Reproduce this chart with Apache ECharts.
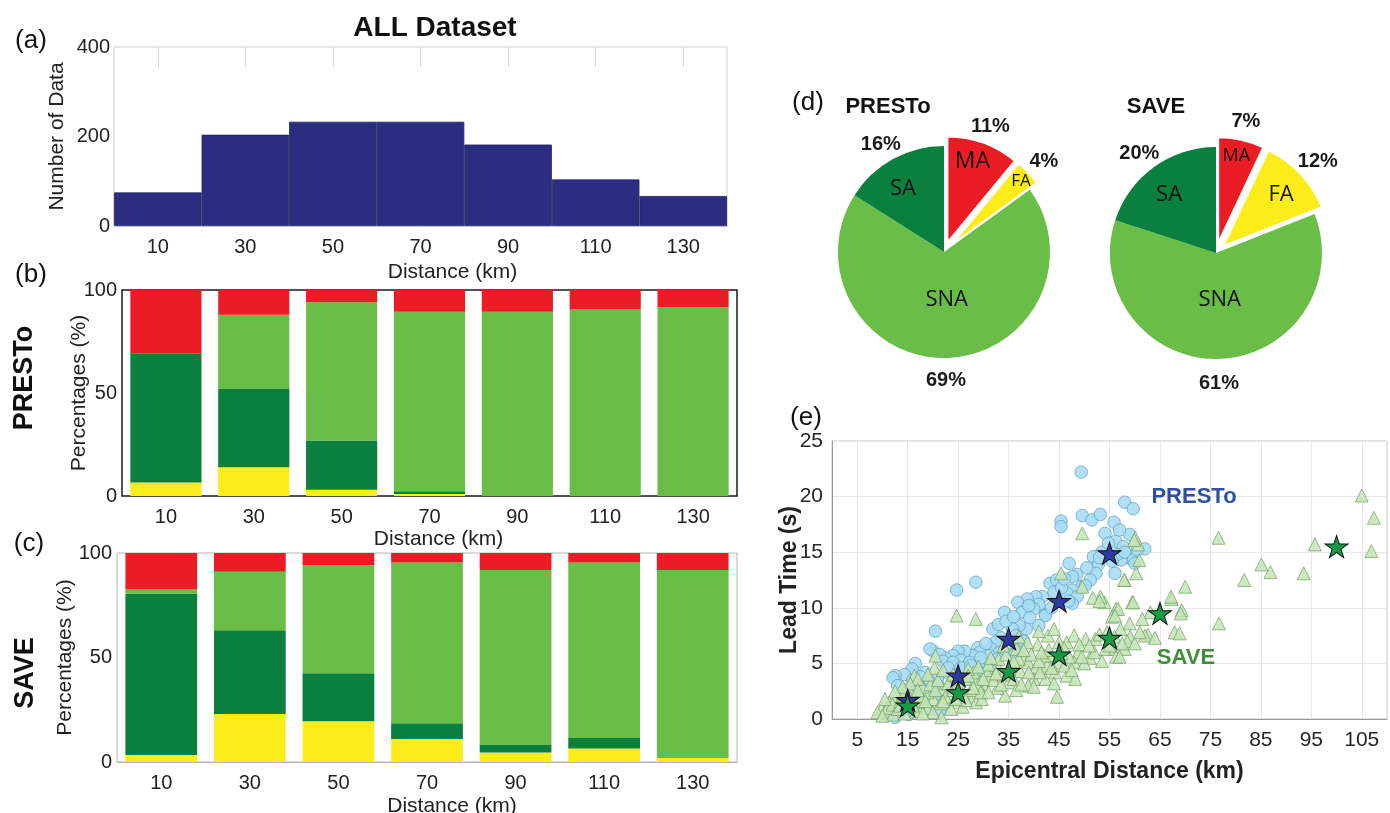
<!DOCTYPE html>
<html><head><meta charset="utf-8">
<script src="https://cdn.jsdelivr.net/npm/echarts@6/dist/echarts.min.js"></script>
<style>html,body{margin:0;padding:0;background:#fff}#c{width:1390px;height:813px}</style>
</head><body><div id="c"></div>
<script>
// ---------- data ----------
const distCats = ['10','30','50','70','90','110','130'];
const histCounts = [75, 204, 233, 233, 182, 104, 67];

const prestoFA  = [6.5, 14, 3, 1, 0, 0, 0];
const prestoSA  = [62.5, 38, 24, 1.3, 0, 0, 0];
const prestoSNA = [0, 36, 67, 87.2, 89.5, 90.5, 91.6];
const prestoMA  = [31, 12, 6, 10.5, 10.5, 9.5, 8.4];

const saveFA  = [3.3, 23, 19.5, 11, 4.5, 6.5, 1.9];
const saveSA  = [77.2, 40, 23, 7.5, 3.6, 5, 0];
const saveSNA = [2, 28, 51.6, 76.9, 83.8, 83.9, 90];
const saveMA  = [17.5, 9, 5.9, 4.6, 8.1, 4.6, 8.1];

const pieNames = ['MA', 'FA', 'SNA', 'SA'];
const prestoPie = [11, 4, 69, 16];
const savePie = [7, 12, 61, 20];

const xTicks = [5, 15, 25, 35, 45, 55, 65, 75, 85, 95, 105];

const prestoPoints = [
[49.4,22.2],[58.0,19.5],[59.7,18.9],[49.6,18.3],[51.5,17.9],[53.2,18.4],[45.4,17.8],[45.4,17.3],[55.9,17.7],[54.1,16.7],
[59.0,16.6],[56.2,16.0],[57.7,15.5],[62.0,15.3],[58.7,14.5],[59.6,14.3],[57.3,14.3],[51.8,14.6],[52.8,13.9],[56.1,13.1],
[52.3,13.1],[51.2,12.5],[47.0,14.0],[48.5,13.0],[47.7,12.8],[49.5,11.9],[43.2,12.2],[47.6,11.6],[46.6,11.3],[48.6,11.0],
[47.6,10.4],[46.9,10.6],[41.7,11.0],[42.3,9.4],[28.5,12.3],[24.7,11.6],[40.4,11.0],[38.7,10.8],[36.8,10.5],[41.0,10.3],
[40.0,9.9],[37.7,9.6],[34.2,9.6],[39.2,9.1],[42.3,9.3],[41.0,8.4],[38.5,8.1],[37.1,8.4],[31.9,8.1],[35.8,8.1],
[20.5,7.9],[33.5,7.3],[32.5,6.6],[32.4,6.9],[31.6,6.3],[33.2,6.0],[28.9,6.4],[29.3,6.0],[27.9,5.7],[26.3,6.1],
[25.0,6.1],[24.0,5.7],[22.4,5.5],[20.1,6.1],[19.4,6.3],[21.3,5.8],[22.0,5.2],[25.5,5.3],[27.3,5.1],[24.0,5.1],
[30.2,4.8],[31.2,5.7],[16.5,5.0],[15.9,4.5],[14.4,4.0],[12.5,3.9],[12.1,3.7],[31.6,4.5],[29.7,5.1],[28.9,4.3],
[26.6,4.2],[22.7,4.2],[20.9,3.6],[19.4,3.3],[17.5,2.8],[15.9,2.4],[13.6,1.8],[12.5,1.2],[13.6,0.6],[15.2,0.4],
[12.5,0.15],[19.0,0.9],[21.3,0.7],[34.3,6.3],[35.8,5.7],[37.3,6.3],[32.8,5.4],[18.0,2.0],[17.0,1.5],[14.5,1.0],
[16.0,3.5],[23.5,3.0],[21.5,2.2],[26.0,3.5],[11.5,0.5],[36.5,7.5],[38.0,7.0],[43.5,10.0],[44.5,12.5],[50.2,12.0],
[53.5,15.0],[54.8,15.8],[56.5,14.8],[60.5,15.2],[57.0,17.0],
[23.0,4.6],[25.5,4.6],[27.5,4.8],[29.5,5.5],[30.5,6.8],[33.0,8.5],[34.5,8.8],[36.0,9.2],[39.0,10.2],[44.0,11.4],
[45.5,11.8],[46.0,12.6],[50.5,13.6],[53.0,14.5],[55.5,14.2],[58.0,15.0],[60.0,14.0],[18.5,4.2],[17.5,3.8],[14.5,2.6],
[16.5,1.8],[13.0,3.0],[19.0,2.6],[21.0,3.0],[15.5,0.8],[22.5,1.4],[24.5,2.6]
];

const savePoints = [
[105.0,20.1],[107.4,18.1],[106.9,15.1],[95.7,15.7],[93.5,13.1],[85.1,13.9],[86.9,13.2],[81.7,12.5],[76.6,16.3],[76.7,8.6],
[70.0,11.9],[67.3,10.8],[69.3,9.8],[69.1,9.5],[67.9,7.8],[68.9,7.7],[62.6,7.6],[63.1,9.6],[59.5,10.5],[60.3,13.1],
[60.9,14.3],[60.7,15.7],[60.1,16.3],[58.0,12.5],[56.3,9.9],[57.2,8.1],[59.1,7.4],[55.5,9.2],[54.0,10.5],[53.2,11.0],
[51.7,10.9],[49.6,11.9],[49.6,16.7],[45.4,13.1],[50.3,7.2],[52.2,7.2],[51.1,5.5],[54.2,6.3],[56.1,6.3],[56.3,5.6],
[58.0,6.3],[48.8,6.0],[48.0,5.1],[46.5,3.9],[48.2,3.6],[44.6,2.0],[42.8,7.5],[40.8,6.7],[38.7,6.9],[38.1,5.5],
[38.9,5.1],[40.4,4.6],[37.3,4.3],[40.0,3.6],[42.3,3.6],[38.9,3.0],[35.0,3.3],[34.3,2.1],[32.8,2.8],[31.6,3.9],
[30.1,3.0],[28.2,3.6],[28.5,1.5],[27.0,2.1],[29.7,1.8],[24.7,9.3],[28.5,9.0],[20.5,5.7],[20.3,4.6],[22.0,2.7],
[23.6,2.1],[25.1,1.5],[20.1,1.8],[19.0,2.4],[17.1,1.5],[16.3,3.9],[15.2,2.7],[12.9,2.1],[11.3,1.5],[9.8,0.9],
[10.6,0.6],[12.1,0.4],[14.4,0.5],[16.7,0.7],[19.0,1.0],[21.7,0.15],[23.6,0.9],[25.9,1.1],[35.8,6.9],[36.6,6.3],
[43.5,5.7],[45.0,5.1],[46.1,4.8],[42.6,4.8],[44.2,4.2],[41.2,4.2],[42.0,5.7],[46.5,6.9],[48.0,7.5],[45.0,6.9],
[11.0,1.0],[12.0,1.3],[13.0,0.9],[13.5,1.6],[14.0,2.2],[15.5,1.9],[16.0,1.2],[17.5,2.1],[18.0,2.9],[18.5,1.6],
[19.5,3.1],[20.5,2.6],[21.0,3.5],[21.5,1.4],[22.5,2.0],[23.0,3.2],[24.0,2.6],[24.5,3.9],[25.5,2.9],[26.0,2.3],
[26.5,3.6],[27.5,2.6],[28.0,4.2],[29.0,3.1],[29.5,2.4],[30.5,4.4],[31.0,2.4],[32.0,3.5],[33.0,4.6],[33.5,3.1],
[34.0,4.0],[35.5,4.8],[36.0,3.6],[36.5,2.6],[37.0,5.4],[37.5,3.1],[39.5,5.8],[40.0,2.9],[41.0,5.2],[43.0,6.2],
[44.0,3.2],[46.0,6.4],[47.0,5.6],[49.0,6.7],[50.0,5.0],[52.0,6.0],[53.0,7.6],[55.0,6.6],[56.0,7.4],[57.0,5.6],
[58.5,7.0],[60.0,6.8],[61.5,9.0],[62.0,7.5],[33.0,5.4],[34.5,5.8],[31.0,4.9],[27.0,4.5],[24.0,4.0],[22.0,4.4],
[19.0,4.0],[17.0,3.6],[15.5,3.2],[14.0,2.9],[12.5,2.5],[10.5,1.8],[9.0,0.6],
[59.9,16.1],[57.9,12.5],[53.0,10.6],[56.7,9.9],[59.7,10.5],[56.1,9.3],[67.2,11.0],[64.0,7.3],[61.0,7.8],
[36.0,5.2],[38.0,6.2],[39.0,4.2],[41.5,6.0],[43.5,4.6],[45.5,5.9],[47.5,4.4],[49.5,5.6],[51.0,6.6],[53.5,5.2],
[54.5,7.8],[57.5,6.8],[59.0,8.6],[35.0,4.4],[32.5,4.1],[30.0,3.6],[28.0,2.8],[26.5,1.7],[24.5,1.8],[22.0,1.6],
[20.0,0.6],[18.0,0.5],[17.0,2.6],[15.0,1.4],[13.5,1.2],[10.0,0.3],[25.0,3.3],[27.0,3.9],[29.0,4.7],[31.5,5.5],
[34.0,6.6],[37.0,7.4],[41.0,7.9],[44.0,8.1]
];

const prestoMeans = [[15,1.7],[25,3.9],[35,7.2],[45,10.6],[55,14.9]];
const saveMeans = [[15,1.2],[25,2.4],[35,4.3],[45,5.8],[55,7.3],[65,9.5],[100,15.5]];

// ---------- styles ----------
const C = {FA:'#fbec1a', SA:'#0b7f3e', SNA:'#6abd46', MA:'#ec1c24'};
const F = '"Liberation Sans", Arial, sans-serif';
const explode = [true, true, false, false];
// label nudges (pixels) relative to the library's default inside position
const prestoNameShift = [[6,-28],[29,-26],[1,-8],[-14,-14]];
const saveNameShift = [[6,-33],[17,-13],[2,-9],[-14,-13]];
const prestoPctShift = [[0,3],[0,3],[-2,2],[-2,4]];
const savePctShift = [[0,2],[2,2],[-1,4],[-2,3]];
const prestoNameSize = [23,17,22,22];
const saveNameSize = [18,22,22,22];

function pieMain(center, vals, shifts, sizes){
  return {
    type:'pie', center:center, radius:106, startAngle:90, clockwise:true,
    selectedMode:'multiple', selectedOffset:10, silent:true, z:2,
    label:{show:true, position:'inside', formatter:'{b}', color:'#111', fontFamily:'"Open Sans", sans-serif', fontSize:22},
    labelLine:{show:false}, emphasis:{disabled:true},
    labelLayout:function(p){ const s = shifts[p.dataIndex]; return {dx:s[0], dy:s[1]}; },
    data: pieNames.map((n,i)=>({
      name:n, value:vals[i], selected:explode[i],
      itemStyle:{color:C[n], borderColor: explode[i]?'#fff':C[n], borderWidth: explode[i]?2:0},
      label:{fontSize:sizes[i]}
    }))
  };
}
function pieRing(center, vals, shifts){
  return {
    type:'pie', center:center, radius:[106,142], startAngle:90, clockwise:true,
    selectedMode:'multiple', selectedOffset:10, silent:true, z:1,
    itemStyle:{color:'rgba(0,0,0,0)', borderWidth:0},
    label:{show:true, position:'inside', formatter:'{c}%', color:'#1a1a1a', fontFamily:F, fontWeight:'bold', fontSize:20},
    labelLine:{show:false}, emphasis:{disabled:true},
    labelLayout:function(p){ const s = shifts[p.dataIndex]; return {dx:s[0], dy:s[1]}; },
    data: pieNames.map((n,i)=>({name:n, value:vals[i], selected:explode[i]}))
  };
}
function stackSeries(axis, stack, arrs){
  const keys = ['FA','SA','SNA','MA'];
  return keys.map((k,i)=>({
    type:'bar', stack:stack, xAxisIndex:axis, yAxisIndex:axis, barCategoryGap:'19%',
    itemStyle:{color:C[k]}, data:arrs[i], silent:true
  }));
}
const tickLabel = {color:'#222', fontSize:20, fontFamily:F};
const nameStyle = {color:'#222', fontSize:21, fontFamily:F};

const starPath = 'path://M50,0 L61.2,34.5 L97.6,34.5 L68.2,55.9 L79.4,90.5 L50,69.1 L20.6,90.5 L31.8,55.9 L2.4,34.5 L38.8,34.5 Z';

const option = {
  animation:false,
  grid:[
    {left:114, top:47, width:613, height:179, show:true, borderColor:'#cfcfcf', borderWidth:1, outerBoundsMode:'none', containLabel:false},
    {left:122, top:290, width:615, height:206, show:true, borderColor:'#1a1a1a', borderWidth:1.5, outerBoundsMode:'none', containLabel:false},
    {left:117, top:553, width:620, height:209, show:true, borderColor:'#b5b5b5', borderWidth:1, outerBoundsMode:'none', containLabel:false},
    {left:832, top:441, width:555, height:278, show:true, borderColor:'#c4c4c4', borderWidth:1, outerBoundsMode:'none', containLabel:false}
  ],
  xAxis:[
    {gridIndex:0, type:'category', data:distCats, axisTick:{show:false},
     axisLine:{lineStyle:{color:'#cfcfcf'}}, axisLabel:Object.assign({margin:11}, tickLabel),
     name:'Distance (km)', nameLocation:'middle', nameGap:36, nameMoveOverlap:false,
     nameTextStyle:Object.assign({padding:[0,0,0,64]}, nameStyle)},
    {gridIndex:1, type:'category', data:distCats, axisTick:{show:false},
     axisLine:{show:false}, axisLabel:Object.assign({margin:11}, tickLabel),
     name:'Distance (km)', nameLocation:'middle', nameGap:33, nameMoveOverlap:false,
     nameTextStyle:Object.assign({padding:[0,0,0,18]}, nameStyle)},
    {gridIndex:2, type:'category', data:distCats, axisTick:{show:false},
     axisLine:{lineStyle:{color:'#b5b5b5'}}, axisLabel:Object.assign({margin:11}, tickLabel),
     name:'Distance (km)', nameLocation:'middle', nameGap:34, nameMoveOverlap:false,
     nameTextStyle:Object.assign({padding:[0,0,0,50]}, nameStyle)},
    {gridIndex:3, type:'value', min:0, max:110,
     axisLine:{lineStyle:{color:'#999'}},
     axisTick:{show:false, customValues:xTicks},
     axisLabel:{customValues:xTicks, color:'#262626', fontSize:21, fontFamily:F, margin:11},
     splitLine:{show:true, lineStyle:{color:'#e8e8e8'}},
     name:'Epicentral Distance (km)', nameLocation:'middle', nameGap:41, nameMoveOverlap:false,
     nameTextStyle:{color:'#222', fontSize:23, fontWeight:'bold', fontFamily:F}},
    {gridIndex:0, type:'category', data:distCats, position:'top',
     axisLine:{show:false}, axisLabel:{show:false},
     axisTick:{show:true, inside:true, alignWithLabel:true, length:20, lineStyle:{color:'#d8d8d8'}}}
  ],
  yAxis:[
    {gridIndex:0, type:'value', min:0, max:400, interval:200,
     axisLine:{show:false}, axisTick:{show:false}, splitLine:{show:false},
     axisLabel:Object.assign({margin:4}, tickLabel),
     name:'Number of Data', nameLocation:'middle', nameGap:46, nameMoveOverlap:false, nameTextStyle:nameStyle},
    {gridIndex:1, type:'value', min:0, max:100, interval:50,
     axisLine:{show:false}, axisTick:{show:false}, splitLine:{show:false},
     axisLabel:Object.assign({margin:5}, tickLabel),
     name:'Percentages (%)', nameLocation:'middle', nameGap:32, nameMoveOverlap:false, nameTextStyle:nameStyle},
    {gridIndex:2, type:'value', min:0, max:100, interval:50,
     axisLine:{show:false}, axisTick:{show:false}, splitLine:{show:false},
     axisLabel:Object.assign({margin:5}, tickLabel),
     name:'Percentages (%)', nameLocation:'middle', nameGap:41, nameMoveOverlap:false, nameTextStyle:nameStyle},
    {gridIndex:3, type:'value', min:0, max:25, interval:5,
     axisLine:{lineStyle:{color:'#999'}}, axisTick:{show:false},
     splitLine:{show:true, lineStyle:{color:'#e8e8e8'}},
     axisLabel:{color:'#262626', fontSize:21, fontFamily:F, margin:9},
     name:'Lead Time (s)', nameLocation:'middle', nameGap:31, nameMoveOverlap:false,
     nameTextStyle:{color:'#222', fontSize:23, fontWeight:'bold', fontFamily:F}}
  ],
  series:[
    {type:'bar', xAxisIndex:0, yAxisIndex:0, data:histCounts, barCategoryGap:'0%', silent:true,
     itemStyle:{color:'#2b2e80', borderColor:'#22256a', borderWidth:0.8}},
    ...stackSeries(1, 'presto', [prestoFA, prestoSA, prestoSNA, prestoMA]),
    ...stackSeries(2, 'save', [saveFA, saveSA, saveSNA, saveMA]),
    pieRing([944,252], prestoPie, prestoPctShift),
    pieMain([944,252], prestoPie, prestoNameShift, prestoNameSize),
    pieRing([1216,253], savePie, savePctShift),
    pieMain([1216,253], savePie, saveNameShift, saveNameSize),
    {type:'scatter', xAxisIndex:3, yAxisIndex:3, data:prestoPoints, symbol:'circle', symbolSize:12.5, silent:true,
     itemStyle:{color:'#a8ddf5', borderColor:'#5a9cbc', borderWidth:0.8, opacity:0.9}},
    {type:'scatter', xAxisIndex:3, yAxisIndex:3, data:savePoints, symbol:'triangle', symbolSize:13, silent:true,
     itemStyle:{color:'#c6e5b8', borderColor:'#6f9d63', borderWidth:0.8, opacity:0.88}},
    {type:'scatter', xAxisIndex:3, yAxisIndex:3, data:prestoMeans, symbol:starPath, symbolSize:[23,22], silent:true, z:5,
     itemStyle:{color:'#2d3a9d', borderColor:'#111', borderWidth:1, opacity:1}},
    {type:'scatter', xAxisIndex:3, yAxisIndex:3, data:saveMeans, symbol:starPath, symbolSize:[23,22], silent:true, z:6,
     itemStyle:{color:'#179a48', borderColor:'#111', borderWidth:1, opacity:1}}
  ],
  graphic:[
    {type:'text', z:100, x:31, y:41, style:{text:'(a)', font:'26px '+F, fill:'#111', align:'center', verticalAlign:'middle'}},
    {type:'text', z:100, x:31, y:275, style:{text:'(b)', font:'26px '+F, fill:'#111', align:'center', verticalAlign:'middle'}},
    {type:'text', z:100, x:29, y:544, style:{text:'(c)', font:'26px '+F, fill:'#111', align:'center', verticalAlign:'middle'}},
    {type:'text', z:100, x:808, y:103, style:{text:'(d)', font:'26px '+F, fill:'#111', align:'center', verticalAlign:'middle'}},
    {type:'text', z:100, x:806, y:418, style:{text:'(e)', font:'26px '+F, fill:'#111', align:'center', verticalAlign:'middle'}},
    {type:'text', z:100, x:435, y:28, style:{text:'ALL Dataset', font:'bold 28px '+F, fill:'#111', align:'center', verticalAlign:'middle'}},
    {type:'text', z:100, x:25, y:378, rotation:Math.PI/2, style:{text:'PRESTo', font:'bold 27px '+F, fill:'#111', align:'center', verticalAlign:'middle'}},
    {type:'text', z:100, x:26, y:673, rotation:Math.PI/2, style:{text:'SAVE', font:'bold 27px '+F, fill:'#111', align:'center', verticalAlign:'middle'}},
    {type:'text', z:100, x:888, y:107, style:{text:'PRESTo', font:'bold 22px '+F, fill:'#111', align:'center', verticalAlign:'middle'}},
    {type:'text', z:100, x:1156, y:107, style:{text:'SAVE', font:'bold 22px '+F, fill:'#111', align:'center', verticalAlign:'middle'}},
    {type:'text', z:100, x:1194, y:497, style:{text:'PRESTo', font:'bold 22px '+F, fill:'#2f4f9f', align:'center', verticalAlign:'middle'}},
    {type:'text', z:100, x:1186, y:658, style:{text:'SAVE', font:'bold 22px '+F, fill:'#3e8e3c', align:'center', verticalAlign:'middle'}}
  ]
};
const chart = echarts.init(document.getElementById('c'), null, {renderer:'canvas'});
chart.setOption(option);
</script>
</body></html>
